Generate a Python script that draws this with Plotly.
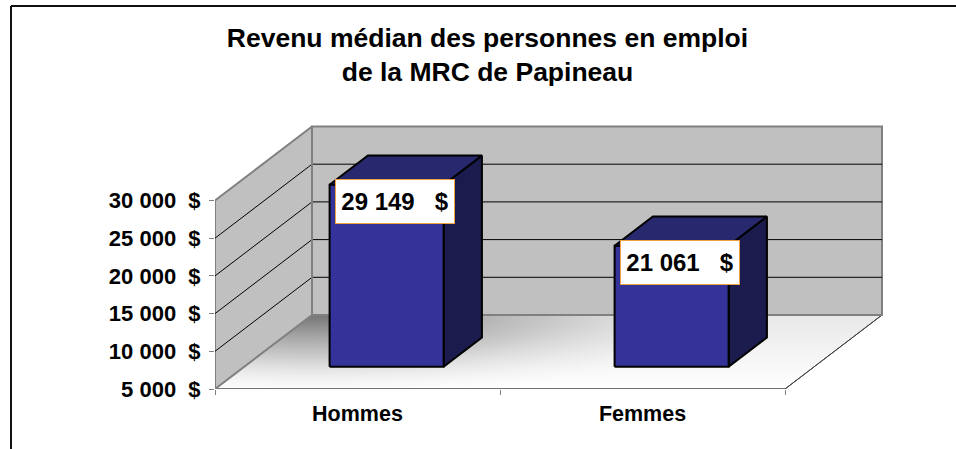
import plotly.graph_objects as go

# ---------------- data ----------------
categories = ["Hommes", "Femmes"]
values = [29149, 21061]
value_labels = ["29 149\u00a0\u00a0\u00a0$", "21 061\u00a0\u00a0\u00a0$"]
tick_values = [5000, 10000, 15000, 20000, 25000, 30000]
tick_labels = ["5 000\u00a0\u00a0$", "10 000\u00a0\u00a0$", "15 000\u00a0\u00a0$",
               "20 000\u00a0\u00a0$", "25 000\u00a0\u00a0$", "30 000\u00a0\u00a0$"]
title_text = "Revenu médian des personnes en emploi<br>de la MRC de Papineau"

# ---------------- geometry / style ----------------
W, H = 956, 449
PL, PB = 215, 60                    # plot area left / bottom offsets (px)
PX_PER_CAT = 285.0
PX_PER_VAL = 188.5 / 25000.0
DEPTH_X = 97 / PX_PER_CAT          # full floor depth in category units
DEPTH_Y = 74 / PX_PER_VAL          # full floor depth in value units
BAR_FRONT = 0.30                   # bar front position (fraction of depth)
BAR_DEPTH = 0.395                  # bar depth (fraction of depth)
BAR_WIDTH = 0.40
FONT = "Arial, 'Liberation Sans', sans-serif"

y_min = tick_values[0]
y_top = tick_values[-1]
n = len(categories)
x_range = [0, (W - PL) / PX_PER_CAT]
y_range = [y_min, y_min + (H - PB) / PX_PER_VAL]


def proj(x, v, d):
    """project a point (category pos, value, depth fraction) to the 2D axes"""
    return x + d * DEPTH_X, v + d * DEPTH_Y


def poly(pts, fill, line_color, line_width, **kw):
    xs = [p[0] for p in pts] + [pts[0][0]]
    ys = [p[1] for p in pts] + [pts[0][1]]
    return go.Scatter(x=xs, y=ys, mode="lines", fill="toself", fillcolor=fill,
                      line=dict(color=line_color, width=line_width),
                      hoverinfo="skip", showlegend=False, **kw)


def seg(p0, p1, color, width):
    return go.Scatter(x=[p0[0], p1[0]], y=[p0[1], p1[1]], mode="lines",
                      line=dict(color=color, width=width),
                      hoverinfo="skip", showlegend=False)


traces = []

# floor
floor = [proj(0, y_min, 0), proj(n, y_min, 0), proj(n, y_min, 1), proj(0, y_min, 1)]
traces.append(go.Scatter(
    x=[p[0] for p in floor] + [floor[0][0]], y=[p[1] for p in floor] + [floor[0][1]],
    mode="lines", fill="toself", line=dict(color="#404040", width=1),
    fillgradient=dict(type="vertical", colorscale=[[0, "#ffffff"], [1, "#e8e8e8"]]),
    hoverinfo="skip", showlegend=False))

# floor shading (radial, centred at back-left corner; extra parts hidden by walls / clipping)
cx, cy = proj(0, y_min, 1)
hw = 470 / PX_PER_CAT
hh = 85 / PX_PER_VAL
shade = [(cx - hw, cy - hh), (cx + hw, cy - hh), (cx + hw, cy + hh), (cx - hw, cy + hh)]
traces.append(go.Scatter(
    x=[p[0] for p in shade] + [shade[0][0]], y=[p[1] for p in shade] + [shade[0][1]],
    mode="lines", fill="toself", line=dict(width=0, color="rgba(0,0,0,0)"),
    fillgradient=dict(type="radial",
                      colorscale=[[0, "rgba(95,95,95,0.85)"], [0.5, "rgba(140,140,140,0.38)"],
                                  [1, "rgba(255,255,255,0)"]]),
    hoverinfo="skip", showlegend=False))
# re-draw floor outline
traces.append(go.Scatter(
    x=[p[0] for p in floor] + [floor[0][0]], y=[p[1] for p in floor] + [floor[0][1]],
    mode="lines", line=dict(color="#404040", width=1), hoverinfo="skip", showlegend=False))

# walls
left_wall = [proj(0, y_min, 0), proj(0, y_min, 1), proj(0, y_top, 1), proj(0, y_top, 0)]
back_wall = [proj(0, y_min, 1), proj(n, y_min, 1), proj(n, y_top, 1), proj(0, y_top, 1)]
traces.append(poly(left_wall, "#c0c0c0", "#808080", 2))
traces.append(poly(back_wall, "#c0c0c0", "#808080", 2))

# gridlines
for v in tick_values[1:-1]:
    traces.append(seg(proj(0, v, 0), proj(0, v, 1), "#000000", 1))
    traces.append(seg(proj(0, v, 1), proj(n, v, 1), "#000000", 1))

# redraw wall edge on top of grid
traces.append(seg(proj(0, y_min, 1), proj(0, y_top, 1), "#808080", 2))

# bars
for i, v in enumerate(values):
    xl = i + 0.5 - BAR_WIDTH / 2
    xr = i + 0.5 + BAR_WIDTH / 2
    d0, d1 = BAR_FRONT, BAR_FRONT + BAR_DEPTH
    front = [proj(xl, y_min, d0), proj(xr, y_min, d0), proj(xr, v, d0), proj(xl, v, d0)]
    top = [proj(xl, v, d0), proj(xr, v, d0), proj(xr, v, d1), proj(xl, v, d1)]
    side = [proj(xr, y_min, d0), proj(xr, y_min, d1), proj(xr, v, d1), proj(xr, v, d0)]
    traces.append(poly(side, "#1b1b4e", "#000000", 2))
    traces.append(poly(top, "#28286f", "#000000", 2))
    traces.append(poly(front, "#333399", "#000000", 2))

fig = go.Figure(traces)

# data labels
for i, (v, lab) in enumerate(zip(values, value_labels)):
    x, y = proj(i + 0.5 + 0.028, v, BAR_FRONT)
    fig.add_annotation(x=x, y=y, yshift=-17, text=lab, showarrow=False,
                       xanchor="center", yanchor="middle",
                       font=dict(family=FONT, size=24, color="#000000", weight="bold"),
                       bgcolor="#ffffff", bordercolor="#f0a040", borderwidth=1,
                       borderpad=5, width=108, height=33)

# outer frame (open on the right and bottom, as in the picture); paper == whole figure
fig.add_shape(type="line", xref="paper", yref="paper",
              x0=11 / W, x1=11 / W, y0=1 - 6 / H, y1=0,
              line=dict(color="#111111", width=2))
fig.add_shape(type="line", xref="paper", yref="paper",
              x0=11 / W, x1=1, y0=1 - 6 / H, y1=1 - 6 / H,
              line=dict(color="#111111", width=2))

fig.update_layout(
    width=W, height=H,
    margin=dict(l=0, r=0, t=0, b=0, pad=0, autoexpand=False),
    paper_bgcolor="#ffffff", plot_bgcolor="rgba(0,0,0,0)",
    showlegend=False,
    title=dict(text=title_text, xref="container", yref="container",
               x=487.5 / W, xanchor="center", y=1 - 46.5 / H, yanchor="middle",
               font=dict(family=FONT, size=26.5, color="#000000", weight="bold")),
    xaxis=dict(domain=[PL / W, 1], range=x_range, showgrid=False, zeroline=False,
               showline=False, automargin=False,
               tickmode="array", tickvals=[i + 0.5 for i in range(n)], ticktext=categories,
               ticks="", ticklabelstandoff=9,
               tickfont=dict(family=FONT, size=21.5, color="#000000", weight="bold"),
               minor=dict(tickmode="array", tickvals=list(range(n + 1)), ticks="outside",
                          ticklen=5, tickcolor="#808080", tickwidth=1, showgrid=False),
               fixedrange=True),
    yaxis=dict(domain=[PB / H, 1], range=y_range, showgrid=False, zeroline=False,
               showline=False, automargin=False,
               tickmode="array", tickvals=tick_values, ticktext=tick_labels,
               ticks="outside", ticklen=5, tickcolor="#808080", tickwidth=1,
               ticklabelstandoff=4,
               tickfont=dict(family=FONT, size=22, color="#000000", weight="bold"),
               fixedrange=True),
)

fig.write_html("out.html", config={"displayModeBar": False},
               post_script="document.body.style.margin='0';"
                           "document.body.style.overflow='hidden';"
                           "document.documentElement.style.overflow='hidden';")
